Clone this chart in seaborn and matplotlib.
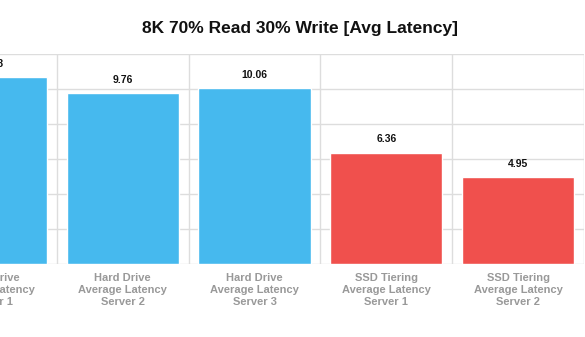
import matplotlib
matplotlib.use("Agg")
import matplotlib.pyplot as plt
import seaborn as sns
import pandas as pd
from matplotlib.ticker import FixedLocator

categories = [
    "Hard Drive\nAverage Latency\nServer 1",
    "Hard Drive\nAverage Latency\nServer 2",
    "Hard Drive\nAverage Latency\nServer 3",
    "SSD Tiering\nAverage Latency\nServer 1",
    "SSD Tiering\nAverage Latency\nServer 2",
]
values = [10.68, 9.76, 10.06, 6.36, 4.95]
value_labels = ["10.68", "9.76", "10.06", "6.36", "4.95"]
groups = ["Hard Drive", "Hard Drive", "Hard Drive", "SSD Tiering", "SSD Tiering"]
group_colors = {"Hard Drive": "#46B9EE", "SSD Tiering": "#F0504D"}
title = "8K 70% Read 30% Write [Avg Latency]"

df = pd.DataFrame({"category": categories, "value": values, "group": groups})

sns.set_theme(style="white")
plt.rcParams["font.family"] = ["Liberation Sans", "DejaVu Sans"]

W, H = 585, 337
fig = plt.figure(figsize=(W / 100, H / 100), dpi=100)
left_px, right_px = -75, 584
bottom_px, top_px = 264, 54
ax = fig.add_axes([left_px / W, 1 - bottom_px / H, (right_px - left_px) / W, (bottom_px - top_px) / H])

sns.barplot(data=df, x="category", y="value", hue="group", palette=group_colors,
            dodge=False, width=0.85, legend=False, ax=ax, zorder=3, saturation=1)

ax.set_ylim(0, 12)
ax.set_xlim(-0.5, len(categories) - 0.5)
ax.set_yticks([0, 2, 4, 6, 8, 10, 12])
ax.set_yticklabels([])
ax.xaxis.set_minor_locator(FixedLocator([i + 0.5 for i in range(-1, len(categories))]))
ax.grid(axis="y", which="major", color="#DDDDDD", linewidth=1.0, zorder=0)
ax.grid(axis="x", which="minor", color="#DDDDDD", linewidth=1.0, zorder=0)
ax.grid(axis="x", which="major", visible=False)
for s in ax.spines.values():
    s.set_visible(False)
ax.tick_params(axis="both", which="both", length=0)
ax.tick_params(axis="x", pad=6.5)
ax.set_xlabel("")
ax.set_ylabel("")
for lbl in ax.get_xticklabels():
    lbl.set_fontsize(8)
    lbl.set_fontweight("bold")
    lbl.set_color("#999999")
    lbl.set_linespacing(1.25)

for i, (v, t) in enumerate(zip(values, value_labels)):
    ax.annotate(t, (i, v), xytext=(0, 6), textcoords="offset points",
                ha="center", va="bottom", fontsize=7.5, fontweight="bold", color="#111111")

fig.text(300.5 / W, 1 - 29 / H, title, ha="center", va="center",
         fontsize=12.5, fontweight="bold", color="#111111")

fig.savefig("out.png", dpi=100)
